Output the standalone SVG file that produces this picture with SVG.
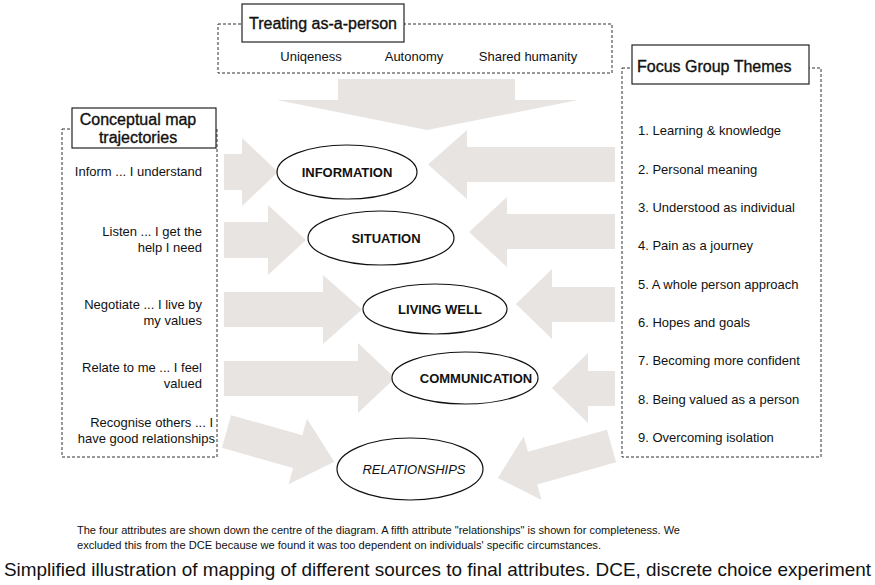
<svg xmlns="http://www.w3.org/2000/svg" width="875" height="585" viewBox="0 0 875 585">
<style>
  .t { font-family: "Liberation Sans", Arial, sans-serif; fill: #111; }
  .item { font-size: 13px; }
  .title { font-size: 16px; stroke: #111; stroke-width: 0.35px; }
  .dash { fill: none; stroke: #333; stroke-width: 1; stroke-dasharray: 3 2; }
  .tbox { fill: #fff; stroke: #222; stroke-width: 1.2; }
  .arr { fill: #e7e4e2; stroke: none; }
  .ell { fill: #fff; stroke: #111; stroke-width: 1.2; }
  .lbl { font-size: 13px; font-weight: bold; text-anchor: middle; }
</style>
<rect width="875" height="585" fill="#fff"/>

<g id="connectors">
  <polygon class="arr" points="338,79 515,79 515,100 578,100 427,130 277,100 338,100"/>
  <polygon class="arr" points="224,154 242,154 242,138 278,172 242,206 242,190 224,190"/>
  <polygon class="arr" points="224,222 268,222 268,205 306,240 268,275 268,258 224,258"/>
  <polygon class="arr" points="224,292 323,292 323,275 362,309.5 323,344 323,327 224,327"/>
  <polygon class="arr" points="224,361 358,361 358,343 395,378 358,413 358,396 224,396"/>
  <polygon class="arr" transform="translate(226.5,431.5) rotate(15.7)" points="0,-17 74,-17 74,-34 112,0 74,34 74,17 0,17"/>
  <polygon class="arr" points="615,147 467,147 467,130 428,164.5 467,199 467,182 615,182"/>
  <polygon class="arr" points="615,214 507,214 507,197 469,232 507,267 507,249 615,249"/>
  <polygon class="arr" points="615,287 552,287 552,269 516,304 552,339 552,322 615,322"/>
  <polygon class="arr" points="615,371 588,371 588,353 552,388 588,423 588,406 615,406"/>
  <polygon class="arr" transform="translate(611.5,446) rotate(164.3)" points="0,-17 82,-17 82,-33 118,0 82,33 82,17 0,17"/>
</g>

<g id="treating">
  <rect class="dash" x="218" y="24" width="394" height="49"/>
  <rect class="tbox" x="242" y="4" width="162" height="38"/>
  <text class="t title" x="323" y="29" text-anchor="middle">Treating as-a-person</text>
  <text class="t item" x="311" y="61" text-anchor="middle">Uniqeness</text>
  <text class="t item" x="414" y="61" text-anchor="middle">Autonomy</text>
  <text class="t item" x="528" y="61" text-anchor="middle">Shared humanity</text>
</g>

<g id="conceptual">
  <rect class="dash" x="62" y="129" width="155" height="328"/>
  <rect class="tbox" x="72" y="108" width="144" height="40"/>
  <text class="t title" x="138" y="125" text-anchor="middle">Conceptual map</text>
  <text class="t title" x="138" y="143" text-anchor="middle">trajectories</text>
  <g class="t item" text-anchor="end">
    <text x="202" y="176">Inform ... I understand</text>
    <text x="202" y="236">Listen ... I get the</text>
    <text x="202" y="252">help I need</text>
    <text x="202" y="309">Negotiate ... I live by</text>
    <text x="202" y="325">my values</text>
    <text x="202" y="372">Relate to me ... I feel</text>
    <text x="202" y="388">valued</text>
    <text x="213" y="427">Recognise others ... I</text>
    <text x="215" y="443">have good relationships</text>
  </g>
</g>

<g id="focus">
  <rect class="dash" x="622" y="68" width="199" height="389"/>
  <rect class="tbox" x="632" y="45" width="177" height="39"/>
  <text class="t title" x="637" y="72">Focus Group Themes</text>
  <g class="t item">
    <text x="638" y="135">1. Learning &amp; knowledge</text>
    <text x="638" y="174">2. Personal meaning</text>
    <text x="638" y="212">3. Understood as individual</text>
    <text x="638" y="250">4. Pain as a journey</text>
    <text x="638" y="289">5. A whole person approach</text>
    <text x="638" y="327">6. Hopes and goals</text>
    <text x="638" y="365">7. Becoming more confident</text>
    <text x="638" y="404">8. Being valued as a person</text>
    <text x="638" y="442">9. Overcoming isolation</text>
  </g>
</g>

<g id="information">
  <ellipse class="ell" cx="347" cy="172" rx="70" ry="27"/>
  <text class="t lbl" x="347" y="177">INFORMATION</text>
</g>
<g id="situation">
  <ellipse class="ell" cx="381" cy="238" rx="73" ry="27"/>
  <text class="t lbl" x="386" y="243">SITUATION</text>
</g>
<g id="living-well">
  <ellipse class="ell" cx="435" cy="309" rx="72" ry="25"/>
  <text class="t lbl" x="440" y="314">LIVING WELL</text>
</g>
<g id="communication">
  <ellipse class="ell" cx="465" cy="378" rx="73" ry="26"/>
  <text class="t lbl" x="476" y="383">COMMUNICATION</text>
</g>
<g id="relationships">
  <ellipse class="ell" cx="410" cy="469" rx="73" ry="31"/>
  <text class="t" x="414" y="474" font-size="13" font-style="italic" text-anchor="middle">RELATIONSHIPS</text>
</g>

<g id="caption">
  <text class="t" x="77" y="534" font-size="10" fill="#222" textLength="603" lengthAdjust="spacingAndGlyphs">The four attributes are shown down the centre of the diagram. A fifth attribute "relationships" is shown for completeness. We</text>
  <text class="t" x="77" y="549" font-size="10" fill="#222" textLength="524" lengthAdjust="spacingAndGlyphs">excluded this from the DCE because we found it was too dependent on individuals' specific circumstances.</text>
  <text class="t" x="4" y="576" font-size="19" fill="#000" textLength="867" lengthAdjust="spacingAndGlyphs">Simplified illustration of mapping of different sources to final attributes. DCE, discrete choice experiment</text>
</g>
</svg>
